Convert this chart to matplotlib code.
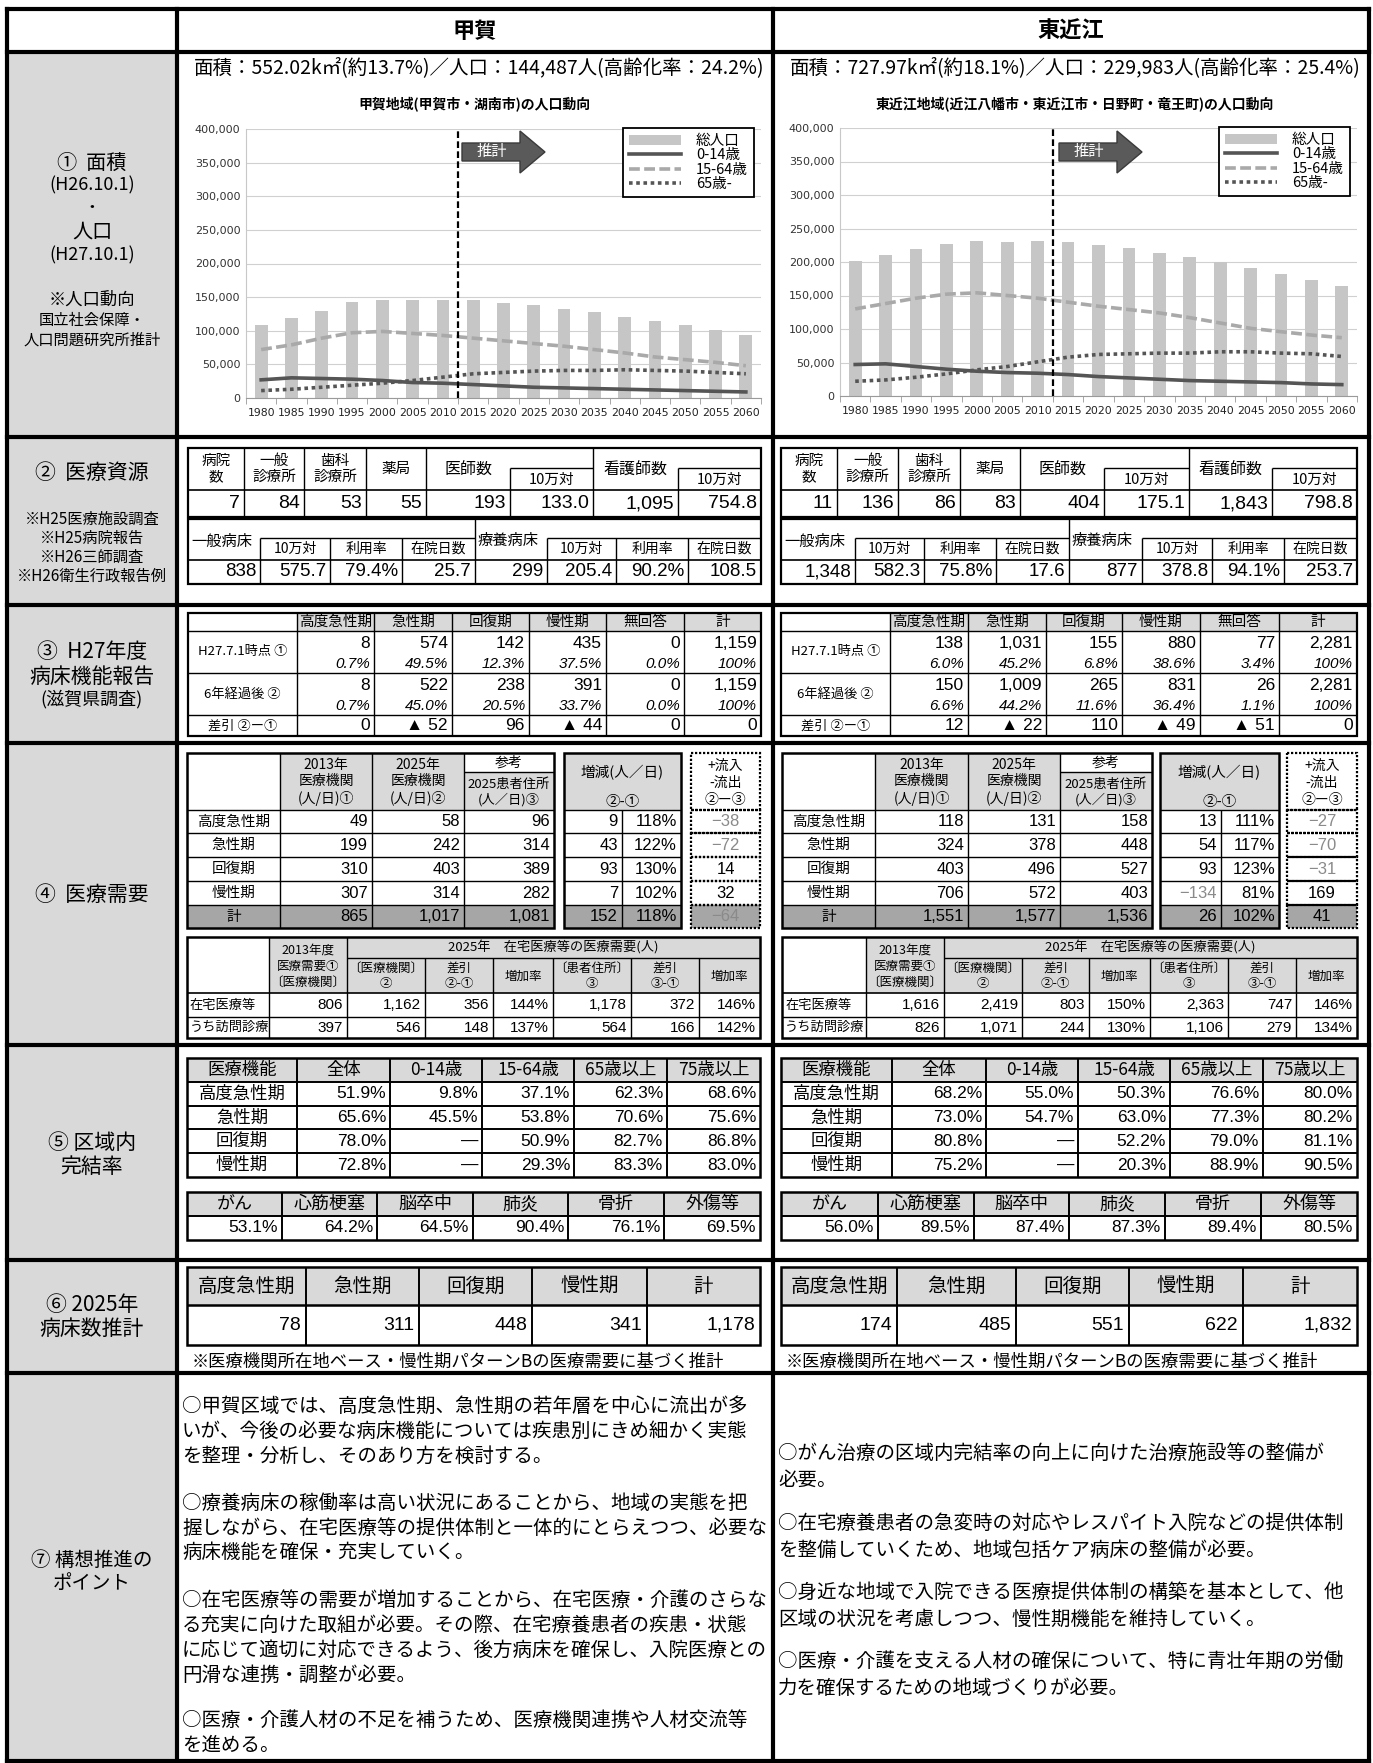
import matplotlib
matplotlib.use('Agg')
import matplotlib.pyplot as plt
from matplotlib.patches import Rectangle, Polygon, Patch
from matplotlib.lines import Line2D

plt.rcParams['font.family'] = ['Noto Sans CJK JP', 'DejaVu Sans']
plt.rcParams['axes.unicode_minus'] = False

# ---------------- data ----------------
years = [1980, 1985, 1990, 1995, 2000, 2005, 2010, 2015, 2020, 2025,
         2030, 2035, 2040, 2045, 2050, 2055, 2060]
koka_total = [108000, 119000, 129000, 143000, 146000, 145000, 146000, 145000, 142000,
              138000, 133000, 128000, 121000, 115000, 108000, 101000, 94000]
koka_0_14 = [27000, 30000, 29000, 28000, 26000, 23000, 22000, 20000, 18000,
             16000, 15000, 14000, 13000, 12000, 11000, 10000, 9000]
koka_15_64 = [72000, 79000, 89000, 97000, 99000, 96000, 93000, 89000, 85000,
              81000, 77000, 72000, 67000, 61000, 57000, 53000, 48000]
koka_65 = [11000, 13000, 16000, 19000, 22000, 26000, 31000, 36000, 38000,
           40000, 41000, 41000, 42000, 41000, 40000, 38000, 36000]
hig_total = [201000, 211000, 220000, 227000, 231000, 230000, 231000, 230000, 226000,
             221000, 214000, 208000, 200000, 191000, 182000, 173000, 164000]
hig_0_14 = [47000, 48000, 44000, 40000, 37000, 35000, 34000, 32000, 29000,
            27000, 25000, 23000, 22000, 21000, 20000, 18000, 17000]
hig_15_64 = [130000, 138000, 146000, 152000, 154000, 150000, 146000, 140000, 134000,
             129000, 124000, 117000, 109000, 101000, 96000, 91000, 87000]
hig_65 = [22000, 24000, 28000, 33000, 39000, 44000, 51000, 58000, 62000,
          63000, 64000, 64000, 66000, 66000, 64000, 63000, 59000]
legend_labels = ['総人口', '0-14歳', '15-64歳', '65歳-']

region_names = ['甲賀', '東近江']
koka_header = '面積：552.02k㎡(約13.7%)／人口：144,487人(高齢化率：24.2%)'
hig_header = '面積：727.97k㎡(約18.1%)／人口：229,983人(高齢化率：25.4%)'
koka_chart_title = '甲賀地域(甲賀市・湖南市)の人口動向'
hig_chart_title = '東近江地域(近江八幡市・東近江市・日野町・竜王町)の人口動向'

res_heads_a = ['病院\n数', '一般\n診療所', '歯科\n診療所', '薬局']
koka_res_a = ['7', '84', '53', '55', '193', '133.0', '1,095', '754.8']
koka_res_b = ['838', '575.7', '79.4%', '25.7', '299', '205.4', '90.2%', '108.5']
hig_res_a = ['11', '136', '86', '83', '404', '175.1', '1,843', '798.8']
hig_res_b = ['1,348', '582.3', '75.8%', '17.6', '877', '378.8', '94.1%', '253.7']

func_heads = ['高度急性期', '急性期', '回復期', '慢性期', '無回答', '計']
report_rows = ['H27.7.1時点 ①', '6年経過後 ②', '差引 ②ー①']
koka_h27 = ['8', '574', '142', '435', '0', '1,159']
koka_h27_pct = ['0.7%', '49.5%', '12.3%', '37.5%', '0.0%', '100%']
koka_6y = ['8', '522', '238', '391', '0', '1,159']
koka_6y_pct = ['0.7%', '45.0%', '20.5%', '33.7%', '0.0%', '100%']
koka_diff = ['0', '▲ 52', '96', '▲ 44', '0', '0']
hig_h27 = ['138', '1,031', '155', '880', '77', '2,281']
hig_h27_pct = ['6.0%', '45.2%', '6.8%', '38.6%', '3.4%', '100%']
hig_6y = ['150', '1,009', '265', '831', '26', '2,281']
hig_6y_pct = ['6.6%', '44.2%', '11.6%', '36.4%', '1.1%', '100%']
hig_diff = ['12', '▲ 22', '110', '▲ 49', '▲ 51', '0']

phase_rows = ['高度急性期', '急性期', '回復期', '慢性期', '計']
koka_2013 = ['49', '199', '310', '307', '865']
koka_2025 = ['58', '242', '403', '314', '1,017']
koka_2025res = ['96', '314', '389', '282', '1,081']
koka_inc = ['9', '43', '93', '7', '152']
koka_incr = ['118%', '122%', '130%', '102%', '118%']
koka_flow = ['−38', '−72', '14', '32', '−64']
hig_2013 = ['118', '324', '403', '706', '1,551']
hig_2025 = ['131', '378', '496', '572', '1,577']
hig_2025res = ['158', '448', '527', '403', '1,536']
hig_inc = ['13', '54', '93', '−134', '26']
hig_incr = ['111%', '117%', '123%', '81%', '102%']
hig_flow = ['−27', '−70', '−31', '169', '41']

home_rows = ['在宅医療等', 'うち訪問診療']
home_subheads = ['〔医療機関〕\n②', '差引\n②-①', '増加率', '〔患者住所〕\n③', '差引\n③-①', '増加率']
koka_home = [['806', '1,162', '356', '144%', '1,178', '372', '146%'],
             ['397', '546', '148', '137%', '564', '166', '142%']]
hig_home = [['1,616', '2,419', '803', '150%', '2,363', '747', '146%'],
            ['826', '1,071', '244', '130%', '1,106', '279', '134%']]

comp_heads = ['医療機能', '全体', '0-14歳', '15-64歳', '65歳以上', '75歳以上']
comp_rows = ['高度急性期', '急性期', '回復期', '慢性期']
koka_comp = [['51.9%', '9.8%', '37.1%', '62.3%', '68.6%'],
             ['65.6%', '45.5%', '53.8%', '70.6%', '75.6%'],
             ['78.0%', '—', '50.9%', '82.7%', '86.8%'],
             ['72.8%', '—', '29.3%', '83.3%', '83.0%']]
hig_comp = [['68.2%', '55.0%', '50.3%', '76.6%', '80.0%'],
            ['73.0%', '54.7%', '63.0%', '77.3%', '80.2%'],
            ['80.8%', '—', '52.2%', '79.0%', '81.1%'],
            ['75.2%', '—', '20.3%', '88.9%', '90.5%']]
disease_heads = ['がん', '心筋梗塞', '脳卒中', '肺炎', '骨折', '外傷等']
koka_disease = ['53.1%', '64.2%', '64.5%', '90.4%', '76.1%', '69.5%']
hig_disease = ['56.0%', '89.5%', '87.4%', '87.3%', '89.4%', '80.5%']

beds_heads = ['高度急性期', '急性期', '回復期', '慢性期', '計']
koka_beds = ['78', '311', '448', '341', '1,178']
hig_beds = ['174', '485', '551', '622', '1,832']
beds_note = '※医療機関所在地ベース・慢性期パターンBの医療需要に基づく推計'

koka_points = [
    ['○甲賀区域では、高度急性期、急性期の若年層を中心に流出が多',
     'いが、今後の必要な病床機能については疾患別にきめ細かく実態',
     'を整理・分析し、そのあり方を検討する。'],
    ['○療養病床の稼働率は高い状況にあることから、地域の実態を把',
     '握しながら、在宅医療等の提供体制と一体的にとらえつつ、必要な',
     '病床機能を確保・充実していく。'],
    ['○在宅医療等の需要が増加することから、在宅医療・介護のさらな',
     'る充実に向けた取組が必要。その際、在宅療養患者の疾患・状態',
     'に応じて適切に対応できるよう、後方病床を確保し、入院医療との',
     '円滑な連携・調整が必要。'],
    ['○医療・介護人材の不足を補うため、医療機関連携や人材交流等',
     'を進める。']]
hig_points = [
    ['○がん治療の区域内完結率の向上に向けた治療施設等の整備が', '必要。'],
    ['○在宅療養患者の急変時の対応やレスパイト入院などの提供体制',
     'を整備していくため、地域包括ケア病床の整備が必要。'],
    ['○身近な地域で入院できる医療提供体制の構築を基本として、他',
     '区域の状況を考慮しつつ、慢性期機能を維持していく。'],
    ['○医療・介護を支える人材の確保について、特に青壮年期の労働',
     '力を確保するための地域づくりが必要。']]

side_labels = [
    (163, '①  面積', 14.5), (185, '(H26.10.1)', 13), (207, '・', 12), (232, '人口', 14.5),
    (255, '(H27.10.1)', 13), (300, '※人口動向', 12.5), (321, '国立社会保障・', 11),
    (340, '人口問題研究所推計', 11),
    (473, '②  医療資源', 15), (519, '※H25医療施設調査', 11), (538, '※H25病院報告', 11),
    (557, '※H26三師調査', 11), (576, '※H26衛生行政報告例', 11),
    (652, '③  H27年度', 15), (677, '病床機能報告', 15), (699, '(滋賀県調査)', 13),
    (895, '④  医療需要', 15),
    (1143, '⑤ 区域内', 15), (1167, '完結率', 15),
    (1305, '⑥ 2025年', 15), (1329, '病床数推計', 15),
    (1560, '⑦ 構想推進の', 14), (1583, 'ポイント', 14)]

# ---------------- canvas ----------------
W, H = 1373, 1763
fig = plt.figure(figsize=(W / 100, H / 100), dpi=100)
fig.patch.set_facecolor('white')
ax = fig.add_axes([0, 0, 1, 1], zorder=10)
ax.set_xlim(0, W)
ax.set_ylim(H, 0)
ax.axis('off')

GRAY = '#d9d9d9'
DARK = '#a6a6a6'
TXTG = '#8a8a8a'
NUMF = ['Liberation Sans', 'Noto Sans CJK JP']


def rect(x0, y0, x1, y1, fc='none', ec='black', lw=1.0, ls='-', z=2):
    ax.add_patch(Rectangle((x0, y0), x1 - x0, y1 - y0, facecolor=fc, edgecolor=ec,
                           linewidth=lw, linestyle=ls, zorder=z))


def hl(x0, x1, y, lw=1.0, ls='-', c='black', z=3, cap='butt'):
    ax.plot([x0, x1], [y, y], color=c, lw=lw, ls=ls, zorder=z, solid_capstyle=cap)


def vl(x, y0, y1, lw=1.0, ls='-', c='black', z=3, cap='butt'):
    ax.plot([x, x], [y0, y1], color=c, lw=lw, ls=ls, zorder=z, solid_capstyle=cap)


def T(x, y, s, size=11, ha='center', va='center', color='black', weight='normal',
      style='normal', family=None, lsp=1.2, z=6):
    kw = {}
    if family is not None:
        kw['family'] = family
    ax.text(x, y, s, fontsize=size, ha=ha, va=va, color=color, fontweight=weight,
            fontstyle=style, linespacing=lsp, zorder=z, **kw)


def mid(a, b):
    return (a + b) / 2


# ---------------- frame ----------------
SEC = [9, 52, 437, 605, 743, 1045, 1260, 1373, 1761]
XL, XC, XM, XR = 7, 177, 773, 1369
rect(XL, SEC[1], XC, SEC[-1], fc=GRAY, ec='none', z=1)
for y in SEC:
    hl(XL, XR, y, lw=3.0, cap='projecting', z=4)
for x in (XL, XC, XM, XR):
    vl(x, SEC[0], SEC[-1], lw=3.0, cap='projecting', z=4)

T(mid(XC, XM), 31, region_names[0], 16, weight='bold')
T(mid(XM, XR), 31, region_names[1], 16, weight='bold')
for y, s, sz in side_labels:
    T(mid(XL, XC), y, s, sz)

# ---------------- section 1: charts ----------------
T(XC + 17, 68, koka_header, 14, ha='left')
T(XM + 17, 68, hig_header, 14, ha='left')
T(474, 105, koka_chart_title, 10, weight='bold')
T(1075, 105, hig_chart_title, 10, weight='bold')


def chart(x0, y0, x1, y1, total, a014, a1564, a65):
    cax = fig.add_axes([x0 / W, 1 - y1 / H, (x1 - x0) / W, (y1 - y0) / H], zorder=1)
    idx = list(range(len(years)))
    cax.bar(idx, total, width=0.42, color='#c6c6c6', zorder=2)
    cax.plot(idx, a1564, color='#a9a9a9', lw=2.6, ls=(0, (3, 1.2)), zorder=3)
    cax.plot(idx, a014, color='#555555', lw=2.6, zorder=3)
    cax.plot(idx, a65, color='#555555', lw=2.6, ls=(0, (1, 1)), zorder=3)
    cax.set_xlim(-0.5, len(years) - 0.5)
    cax.set_ylim(0, 400000)
    yt = list(range(0, 400001, 50000))
    cax.set_yticks(yt)
    cax.set_yticklabels([f'{v:,}' for v in yt], fontsize=8, color='#333333',
                        family='DejaVu Sans')
    cax.set_xticks(idx)
    cax.set_xticklabels([str(y) for y in years], fontsize=7.8, color='#222222',
                        family='DejaVu Sans')
    cax.set_xticks([i - 0.5 for i in range(len(years) + 1)], minor=True)
    cax.tick_params(axis='x', which='major', length=0, pad=7)
    cax.tick_params(axis='x', which='minor', length=4, color='#999999')
    cax.tick_params(axis='y', length=0, pad=4)
    cax.grid(axis='y', color='#d0d0d0', lw=0.8)
    cax.set_axisbelow(True)
    for s in ('top', 'right'):
        cax.spines[s].set_visible(False)
    cax.spines['left'].set_color('#c8c8c8')
    cax.spines['bottom'].set_color('#9a9a9a')
    cax.axvline(6.5, color='black', lw=1.6, ls=(0, (3, 1.5)), zorder=4)
    handles = [Patch(facecolor='#c6c6c6', edgecolor='none'),
               Line2D([], [], color='#555555', lw=2.6),
               Line2D([], [], color='#a9a9a9', lw=2.6, ls=(0, (3, 1.2))),
               Line2D([], [], color='#555555', lw=2.6, ls=(0, (1, 1)))]
    leg = cax.legend(handles, legend_labels, loc='upper right', bbox_to_anchor=(1.0, 1.03),
                     fontsize=10.5, frameon=True, fancybox=False, framealpha=1,
                     edgecolor='black', handlelength=3.6, borderpad=0.4,
                     labelspacing=0.02, handletextpad=1.0)
    leg.get_frame().set_linewidth(1.3)
    leg.set_zorder(10)
    return cax


chart(246, 129, 761, 398, koka_total, koka_0_14, koka_15_64, koka_65)
chart(840, 128, 1357, 396, hig_total, hig_0_14, hig_15_64, hig_65)


def arrow(x0):
    pts = [(x0, 143), (x0 + 58, 143), (x0 + 58, 131), (x0 + 83, 152),
           (x0 + 58, 173), (x0 + 58, 161), (x0, 161)]
    ax.add_patch(Polygon(pts, closed=True, facecolor='#5a5a5a', edgecolor='#3a3a3a',
                         lw=1.0, zorder=5))
    T(x0 + 30, 151, '推計', 11, color='white')


arrow(462)
arrow(1059)

# ---------------- section 2 ----------------


def resources(c1, v1, c2, v2):
    y0, ys, ym, y1 = 448, 468, 490, 517
    rect(c1[0], y0, c1[-1], y1, lw=1.6, z=3)
    hl(c1[0], c1[-1], ym, 1.2)
    for i in (1, 2, 3, 4, 6):
        vl(c1[i], y0, y1, 1.0)
    for i in (5, 7):
        vl(c1[i], ys, y1, 1.0)
    hl(c1[5], c1[6], ys, 1.0)
    hl(c1[7], c1[8], ys, 1.0)
    for i, h in enumerate(res_heads_a):
        T(mid(c1[i], c1[i + 1]), 469, h, 10.5, lsp=1.15)
    T(mid(c1[4], c1[5]), 470, '医師数', 11.5)
    T(mid(c1[5], c1[6]), 480, '10万対', 10.5)
    T(mid(c1[6], c1[7]), 470, '看護師数', 11.5)
    T(mid(c1[7], c1[8]), 480, '10万対', 10.5)
    for i, v in enumerate(v1):
        T(c1[i + 1] - 4, 504, v, 14, ha='right', family=NUMF)

    y0, ys, ym, y1 = 519, 538, 560, 584
    rect(c2[0], y0, c2[-1], y1, lw=1.6, z=3)
    hl(c2[0], c2[-1], ym, 1.2)
    hl(c2[1], c2[4], ys, 1.0)
    hl(c2[5], c2[8], ys, 1.0)
    vl(c2[4], y0, y1, 1.0)
    for i in (1, 2, 3, 5, 6, 7):
        vl(c2[i], ys, y1, 1.0)
    T(c2[0] + 3, 541, '一般病床', 11, ha='left')
    T(c2[4] + 3, 541, '療養病床', 11, ha='left')
    for i, h in zip((1, 2, 3, 5, 6, 7), ('10万対', '利用率', '在院日数', '10万対', '利用率', '在院日数')):
        T(mid(c2[i], c2[i + 1]), 549, h, 10)
    for i, v in enumerate(v2):
        T(c2[i + 1] - 4, 572, v, 13.5, ha='right', family=NUMF)


resources([188, 244, 304, 366, 426, 510, 593, 678, 761], koka_res_a,
          [188, 260, 330, 402, 475, 547, 616, 688, 761], koka_res_b)
resources([781, 837, 898, 960, 1020, 1104, 1189, 1272, 1357], hig_res_a,
          [781, 855, 924, 996, 1069, 1142, 1212, 1284, 1357], hig_res_b)

# ---------------- section 3 ----------------


def report(cols, c1, p1, c2, p2, d):
    ys = [613, 631, 673, 715, 736]
    rect(cols[1], ys[0], cols[-1], ys[1], fc=GRAY, ec='none', z=1.5)
    rect(cols[0], ys[0], cols[-1], ys[-1], lw=1.6, z=3)
    for yy in ys[1:-1]:
        hl(cols[0], cols[-1], yy, 1.0)
    for c in cols[1:-1]:
        vl(c, ys[0], ys[-1], 1.0)
    for i, h in enumerate(func_heads):
        T(mid(cols[i + 1], cols[i + 2]), 622, h, 10.5)
    T(mid(cols[0], cols[1]), 652, report_rows[0], 9.5)
    T(mid(cols[0], cols[1]), 694, report_rows[1], 9.5)
    T(mid(cols[0], cols[1]), 726, report_rows[2], 9.5)
    for i in range(6):
        xr = cols[i + 2] - 4
        T(xr, 643, c1[i], 12.5, ha='right', family=NUMF)
        T(xr, 664, p1[i], 11, ha='right', style='italic', family=['Liberation Sans'])
        T(xr, 685, c2[i], 12.5, ha='right', family=NUMF)
        T(xr, 706, p2[i], 11, ha='right', style='italic', family=['Liberation Sans'])
        T(xr, 726, d[i], 12.5, ha='right', family=NUMF)


report([188, 297, 374, 452, 529, 606, 684, 761], koka_h27, koka_h27_pct, koka_6y, koka_6y_pct, koka_diff)
report([781, 890, 968, 1046, 1122, 1200, 1279, 1357], hig_h27, hig_h27_pct, hig_6y, hig_6y_pct, hig_diff)

# ---------------- section 4 ----------------


def gcol(s):
    return TXTG if s.startswith('−') else 'black'


def demand(cols, b2, b3, lc, v2013, v2025, vres, inc, incr, flow, home):
    ys = [753, 810, 833, 857, 881, 905, 928]
    rect(cols[1], 753, cols[3], 810, fc=GRAY, ec='none', z=1.5)
    rect(cols[3], 772, cols[4], 810, fc=GRAY, ec='none', z=1.5)
    rect(cols[0], 905, cols[4], 928, fc=DARK, ec='none', z=1.5)
    rect(cols[0], 753, cols[4], 928, lw=1.8, z=3)
    for yy in ys[1:-1]:
        hl(cols[0], cols[4], yy, 1.0)
    hl(cols[3], cols[4], 772, 1.0)
    for c in cols[1:-1]:
        vl(c, 753, 928, 1.0)
    T(mid(cols[1], cols[2]), 782, '2013年\n医療機関\n(人/日)①', 10, lsp=1.25)
    T(mid(cols[2], cols[3]), 782, '2025年\n医療機関\n(人/日)②', 10, lsp=1.25)
    T(mid(cols[3], cols[4]), 763, '参考', 10)
    T(mid(cols[3], cols[4]), 792, '2025患者住所\n(人／日)③', 9.5, lsp=1.2)
    # box 2
    rect(b2[0], 753, b2[2], 810, fc=GRAY, ec='none', z=1.5)
    rect(b2[0], 905, b2[2], 928, fc=DARK, ec='none', z=1.5)
    rect(b2[0], 753, b2[2], 928, lw=1.8, z=3)
    for yy in ys[1:-1]:
        hl(b2[0], b2[2], yy, 1.0)
    vl(b2[1], 810, 928, 1.0)
    T(mid(b2[0], b2[2]), 773, '増減(人／日)', 10.5)
    T(mid(b2[0], b2[2]), 802, '②-①', 10.5)
    # box 3 (dotted)
    rect(b3[0], 905, b3[1], 928, fc=DARK, ec='none', z=1.5)
    for k in range(len(ys) - 1):
        rect(b3[0], ys[k], b3[1], ys[k + 1], lw=1.6, ls=(0, (1, 0.8)), z=3)
    T(mid(b3[0], b3[1]), 783, '+流入\n-流出\n②ー③', 10, lsp=1.3)
    for r in range(5):
        yc = mid(ys[r + 1], ys[r + 2])
        T(mid(cols[0], cols[1]), yc, phase_rows[r], 10.5)
        T(cols[2] - 4, yc, v2013[r], 12, ha='right', family=NUMF)
        T(cols[3] - 4, yc, v2025[r], 12, ha='right', family=NUMF)
        T(cols[4] - 4, yc, vres[r], 12, ha='right', family=NUMF)
        T(b2[1] - 4, yc, inc[r], 12, ha='right', color=gcol(inc[r]), family=NUMF)
        T(b2[2] - 4, yc, incr[r], 12, ha='right', family=NUMF)
        T(mid(b3[0], b3[1]), yc, flow[r], 12, color=gcol(flow[r]), family=NUMF)
    # lower table
    ys2 = [937, 958, 993, 1017, 1038]
    rect(lc[1], 937, lc[-1], 993, fc=GRAY, ec='none', z=1.5)
    rect(lc[0], 937, lc[-1], 1038, lw=1.8, z=3)
    hl(lc[2], lc[-1], 958, 1.0)
    hl(lc[0], lc[-1], 993, 1.2)
    hl(lc[0], lc[-1], 1017, 1.0)
    vl(lc[1], 937, 1038, 1.0)
    vl(lc[2], 937, 1038, 1.0)
    for c in lc[3:-1]:
        vl(c, 958, 1038, 1.0)
    T(mid(lc[1], lc[2]), 966, '2013年度\n医療需要①\n〔医療機関〕', 9, lsp=1.3)
    T(mid(lc[2], lc[-1]), 947, '2025年　在宅医療等の医療需要(人)', 9.5)
    for i, h in enumerate(home_subheads):
        T(mid(lc[i + 2], lc[i + 3]), 976, h, 9, lsp=1.2)
    for r in range(2):
        yc = mid(ys2[r + 2], ys2[r + 3])
        T(lc[0] + 3, yc, home_rows[r], 9.5, ha='left')
        for i, v in enumerate(home[r]):
            T(lc[i + 2] - 4, yc, v, 11, ha='right', family=NUMF)


demand([187, 280, 372, 464, 554], [564, 622, 681], [691, 760],
       [187, 269, 347, 425, 493, 553, 631, 699, 760],
       koka_2013, koka_2025, koka_2025res, koka_inc, koka_incr, koka_flow, koka_home)
demand([782, 875, 968, 1060, 1152], [1160, 1221, 1279], [1287, 1357],
       [782, 866, 944, 1022, 1089, 1150, 1228, 1296, 1357],
       hig_2013, hig_2025, hig_2025res, hig_inc, hig_incr, hig_flow, hig_home)

# ---------------- section 5 ----------------


def completion(uc, lc, comp, dis):
    ys = [1058, 1082, 1106, 1129, 1153, 1177]
    rect(uc[0], ys[0], uc[-1], ys[1], fc=GRAY, ec='none', z=1.5)
    rect(uc[0], ys[0], uc[-1], ys[-1], lw=1.8, z=3)
    for yy in ys[1:-1]:
        hl(uc[0], uc[-1], yy, 1.4)
    for c in uc[1:-1]:
        vl(c, ys[0], ys[-1], 1.4)
    for i, h in enumerate(comp_heads):
        T(mid(uc[i], uc[i + 1]), mid(ys[0], ys[1]), h, 12.5)
    for r in range(4):
        yc = mid(ys[r + 1], ys[r + 2])
        T(mid(uc[0], uc[1]), yc, comp_rows[r], 12.5)
        for i, v in enumerate(comp[r]):
            T(uc[i + 2] - 4, yc, v, 12.5, ha='right', family=NUMF)
    ys = [1192, 1216, 1240]
    rect(lc[0], ys[0], lc[-1], ys[1], fc=GRAY, ec='none', z=1.5)
    rect(lc[0], ys[0], lc[-1], ys[-1], lw=1.8, z=3)
    hl(lc[0], lc[-1], ys[1], 1.4)
    for c in lc[1:-1]:
        vl(c, ys[0], ys[-1], 1.4)
    for i, h in enumerate(disease_heads):
        T(mid(lc[i], lc[i + 1]), mid(ys[0], ys[1]), h, 13)
        T(lc[i + 1] - 4, mid(ys[1], ys[2]), dis[i], 12.5, ha='right', family=NUMF)


completion([187, 297, 390, 482, 574, 667, 760], [187, 282, 377, 473, 568, 664, 760],
           koka_comp, koka_disease)
completion([781, 892, 986, 1078, 1170, 1263, 1357], [781, 878, 974, 1069, 1165, 1261, 1357],
           hig_comp, hig_disease)

# ---------------- section 6 ----------------


def beds(cols, vals, nx):
    ys = [1267, 1305, 1345]
    rect(cols[0], ys[0], cols[-1], ys[1], fc=GRAY, ec='none', z=1.5)
    rect(cols[0], ys[0], cols[-1], ys[-1], lw=1.8, z=3)
    hl(cols[0], cols[-1], ys[1], 1.8)
    for c in cols[1:-1]:
        vl(c, ys[0], ys[-1], 1.4)
    for i, h in enumerate(beds_heads):
        T(mid(cols[i], cols[i + 1]), mid(ys[0], ys[1]), h, 14)
        T(cols[i + 1] - 5, mid(ys[1], ys[2]), vals[i], 14, ha='right', family=NUMF)
    T(nx, 1362, beds_note, 12.5, ha='left')


beds([187, 306, 419, 532, 647, 760], koka_beds, 192)
beds([781, 897, 1016, 1129, 1243, 1357], hig_beds, 786)

# ---------------- section 7 ----------------


def points(paras, x, starts, step):
    for p, y0 in zip(paras, starts):
        for k, line in enumerate(p):
            T(x, y0 + k * step, line, 14, ha='left')


points(koka_points, 182, [1406, 1503, 1600, 1720], 25)
points(hig_points, 778, [1453, 1523, 1592, 1661], 27)

fig.savefig('out.png', dpi=100)
